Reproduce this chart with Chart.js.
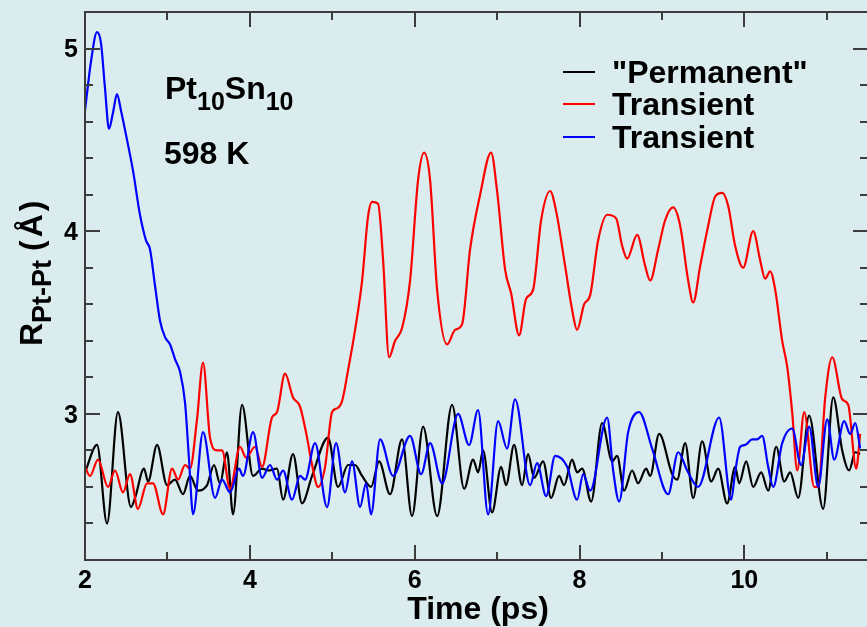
<!DOCTYPE html>
<html>
<head>
<meta charset="utf-8">
<script src="https://cdn.jsdelivr.net/npm/chart.js@4.4.0/dist/chart.umd.min.js"></script>
<style>
  html, body { margin: 0; padding: 0; background: #daeced; overflow: hidden; }
  #wrap { width: 867px; height: 627px; overflow: hidden; position: relative; }
  canvas { display: block; }
</style>
</head>
<body>
<div id="wrap"><canvas id="c" width="872" height="627"></canvas></div>
<script>
// Axis tick labels
const timeTicks = [2, 4, 6, 8, 10];
const distTicks = [3, 4, 5];

// "Permanent" Pt-Pt pair
const permanentTime = [2.000, 2.146, 2.267, 2.400, 2.558, 2.607, 2.716, 2.765, 2.874, 2.995, 3.092, 3.189, 3.274, 3.371, 3.481, 3.566, 3.638, 3.723, 3.796, 3.905, 4.039, 4.148, 4.221, 4.330, 4.403, 4.524, 4.633, 4.755, 4.949, 5.070, 5.192, 5.277, 5.362, 5.471, 5.568, 5.701, 5.847, 5.968, 6.102, 6.272, 6.454, 6.600, 6.709, 6.770, 6.830, 6.939, 7.049, 7.109, 7.206, 7.303, 7.376, 7.449, 7.558, 7.655, 7.752, 7.813, 7.910, 7.971, 8.032, 8.141, 8.274, 8.396, 8.456, 8.541, 8.638, 8.711, 8.808, 8.857, 8.966, 9.124, 9.184, 9.282, 9.379, 9.488, 9.597, 9.682, 9.791, 9.888, 9.937, 10.022, 10.107, 10.204, 10.289, 10.386, 10.483, 10.556, 10.653, 10.786, 10.956, 11.078, 11.187, 11.272, 11.345, 11.405];
const permanentR = [2.68, 2.83, 2.40, 3.01, 2.49, 2.54, 2.70, 2.63, 2.83, 2.61, 2.64, 2.56, 2.66, 2.58, 2.61, 2.72, 2.62, 2.79, 2.45, 3.05, 2.66, 2.70, 2.69, 2.70, 2.53, 2.78, 2.51, 2.66, 2.87, 2.60, 2.72, 2.72, 2.66, 2.60, 2.74, 2.56, 2.86, 2.44, 2.93, 2.44, 3.05, 2.59, 2.75, 2.68, 2.80, 2.46, 2.71, 2.61, 2.83, 2.61, 2.78, 2.65, 2.74, 2.54, 2.66, 2.61, 2.75, 2.68, 2.70, 2.52, 2.95, 2.74, 2.77, 2.58, 2.69, 2.62, 2.70, 2.66, 2.89, 2.67, 2.64, 2.84, 2.54, 2.85, 2.63, 2.70, 2.51, 2.71, 2.62, 2.74, 2.60, 2.68, 2.58, 2.82, 2.63, 2.68, 2.54, 2.99, 2.48, 3.09, 2.80, 2.69, 2.79, 2.78];

// Transient pair (red)
const transientRedTime = [2.000, 2.061, 2.158, 2.279, 2.364, 2.461, 2.546, 2.643, 2.752, 2.825, 2.947, 3.056, 3.129, 3.214, 3.274, 3.359, 3.432, 3.517, 3.602, 3.663, 3.760, 3.881, 3.954, 4.063, 4.148, 4.269, 4.330, 4.427, 4.524, 4.609, 4.694, 4.755, 4.828, 4.913, 4.998, 5.058, 5.119, 5.192, 5.277, 5.362, 5.434, 5.483, 5.556, 5.617, 5.689, 5.762, 5.847, 5.944, 6.041, 6.114, 6.187, 6.272, 6.393, 6.490, 6.575, 6.672, 6.794, 6.927, 7.000, 7.097, 7.170, 7.267, 7.352, 7.437, 7.534, 7.643, 7.716, 7.825, 7.910, 7.971, 8.056, 8.129, 8.226, 8.335, 8.444, 8.517, 8.578, 8.699, 8.796, 8.857, 8.954, 9.039, 9.136, 9.221, 9.318, 9.379, 9.464, 9.561, 9.646, 9.731, 9.803, 9.888, 9.985, 10.107, 10.192, 10.252, 10.313, 10.374, 10.459, 10.519, 10.580, 10.641, 10.726, 10.847, 10.896, 10.981, 11.066, 11.187, 11.260, 11.357, 11.405];
const transientRedR = [2.71, 2.66, 2.75, 2.60, 2.69, 2.57, 2.67, 2.48, 2.62, 2.62, 2.45, 2.70, 2.64, 2.72, 2.70, 2.97, 3.28, 2.87, 2.80, 2.80, 2.59, 2.82, 2.76, 2.82, 2.71, 2.98, 3.01, 3.22, 3.09, 3.04, 2.87, 2.72, 2.60, 2.71, 3.01, 3.03, 3.07, 3.24, 3.46, 3.73, 4.08, 4.16, 4.15, 3.84, 3.31, 3.40, 3.47, 3.73, 4.28, 4.43, 4.28, 3.68, 3.38, 3.46, 3.49, 3.90, 4.20, 4.43, 4.22, 3.79, 3.66, 3.43, 3.63, 3.68, 4.06, 4.22, 4.11, 3.81, 3.57, 3.46, 3.60, 3.65, 3.95, 4.09, 4.07, 3.92, 3.85, 3.98, 3.81, 3.73, 3.90, 4.06, 4.13, 4.03, 3.73, 3.61, 3.81, 4.03, 4.19, 4.21, 4.14, 3.92, 3.80, 4.00, 3.84, 3.74, 3.78, 3.68, 3.40, 3.26, 3.01, 2.69, 3.01, 2.60, 2.60, 3.09, 3.31, 3.08, 3.05, 2.70, 2.89];

// Transient pair (blue)
const transientBlueTime = [2.000, 2.073, 2.146, 2.194, 2.243, 2.291, 2.340, 2.388, 2.437, 2.510, 2.583, 2.667, 2.740, 2.789, 2.850, 2.910, 2.971, 3.032, 3.092, 3.153, 3.214, 3.262, 3.311, 3.432, 3.578, 3.663, 3.760, 3.869, 3.917, 4.039, 4.148, 4.245, 4.330, 4.403, 4.512, 4.609, 4.670, 4.791, 4.937, 5.046, 5.155, 5.240, 5.337, 5.410, 5.471, 5.580, 5.738, 5.944, 6.078, 6.187, 6.333, 6.527, 6.660, 6.769, 6.891, 7.012, 7.121, 7.218, 7.400, 7.485, 7.595, 7.704, 7.850, 7.971, 8.044, 8.129, 8.335, 8.408, 8.481, 8.590, 8.723, 8.881, 9.075, 9.197, 9.306, 9.439, 9.694, 9.840, 9.888, 9.949, 10.010, 10.095, 10.155, 10.216, 10.289, 10.350, 10.459, 10.580, 10.689, 10.786, 10.896, 11.005, 11.090, 11.211, 11.284, 11.345, 11.405];
const transientBlueR = [4.66, 4.93, 5.09, 5.03, 4.78, 4.56, 4.65, 4.75, 4.66, 4.50, 4.33, 4.09, 3.95, 3.90, 3.70, 3.51, 3.42, 3.38, 3.30, 3.23, 3.06, 2.75, 2.45, 2.90, 2.54, 2.64, 2.57, 2.70, 2.66, 2.90, 2.65, 2.72, 2.64, 2.69, 2.53, 2.66, 2.64, 2.84, 2.49, 2.84, 2.57, 2.74, 2.49, 2.62, 2.45, 2.86, 2.66, 2.88, 2.67, 2.84, 2.62, 3.00, 2.83, 3.02, 2.45, 2.96, 2.81, 3.08, 2.61, 2.73, 2.55, 2.77, 2.71, 2.53, 2.67, 2.58, 2.98, 2.69, 2.52, 2.90, 3.01, 2.81, 2.56, 2.79, 2.69, 2.60, 2.98, 2.53, 2.68, 2.82, 2.83, 2.86, 2.86, 2.88, 2.71, 2.60, 2.84, 2.92, 2.72, 2.93, 2.60, 2.97, 2.75, 2.96, 2.89, 2.95, 2.81];

const FONT = '"Liberation Sans", Arial, Helvetica, sans-serif';
const AXIS_COLOR = '#3c3c3c';

const pairs = (xs, ys) => xs.map((x, i) => ({ x, y: ys[i] }));

// Draws a run of text pieces with their own size, vertical offset and spacing
function drawRich(ctx, pieces, x, y) {
  let cx = x;
  for (const p of pieces) {
    ctx.font = `bold ${p.size}px ${FONT}`;
    ctx.letterSpacing = p.spacing || '0px';
    cx += p.gap || 0;
    ctx.fillText(p.t, cx, y + (p.dy || 0));
    cx += ctx.measureText(p.t).width;
  }
  ctx.letterSpacing = '0px';
  return cx - x;
}

// Box with inward major/minor ticks on all four sides
const framePlugin = {
  id: 'frame',
  afterDatasetsDraw(chart) {
    const { ctx, chartArea: a, scales: { x, y } } = chart;
    ctx.save();
    ctx.strokeStyle = AXIS_COLOR;
    ctx.lineWidth = 2;
    ctx.beginPath();
    for (let v = 2; v <= 11.5; v += 1) {
      const px = Math.round(x.getPixelForValue(v));
      const len = v % 2 === 0 ? 15 : 8;
      ctx.moveTo(px, a.bottom); ctx.lineTo(px, a.bottom - len);
      ctx.moveTo(px, a.top); ctx.lineTo(px, a.top + len);
    }
    for (let i = 11; i <= 26; i++) {
      const py = Math.round(y.getPixelForValue(i / 5));
      const len = i % 5 === 0 ? 15 : 8;
      ctx.moveTo(a.left, py); ctx.lineTo(a.left + len, py);
      ctx.moveTo(a.right, py); ctx.lineTo(a.right - len, py);
    }
    ctx.stroke();
    ctx.strokeRect(a.left, a.top, a.right - a.left, a.bottom - a.top);
    ctx.restore();
  }
};

// Axis titles, annotations and legend
const textPlugin = {
  id: 'texts',
  afterDraw(chart) {
    const { ctx } = chart;
    ctx.save();
    ctx.fillStyle = '#000';
    ctx.textBaseline = 'alphabetic';
    ctx.textAlign = 'left';

    // x title
    ctx.font = `bold 32px ${FONT}`;
    const tw = ctx.measureText('Time (ps)').width;
    ctx.fillText('Time (ps)', 478 - tw / 2, 619);

    // y title (rotated)
    ctx.save();
    ctx.translate(42, 346);
    ctx.rotate(-Math.PI / 2);
    drawRich(ctx, [
      { t: 'R', size: 32 },
      { t: 'Pt-Pt', size: 27, dy: 9 },
      { t: '(Å)', size: 32, gap: 9, spacing: '3px' }
    ], 0, 0);
    ctx.restore();

    // composition and temperature
    drawRich(ctx, [
      { t: 'Pt', size: 32 },
      { t: '10', size: 25, dy: 11 },
      { t: 'Sn', size: 32 },
      { t: '10', size: 25, dy: 11 }
    ], 165, 99);
    ctx.font = `bold 32px ${FONT}`;
    ctx.fillText('598 K', 164, 164);

    // legend
    const entries = [
      { label: '"Permanent"', color: '#000000', y: 83 },
      { label: 'Transient', color: '#ff0000', y: 115 },
      { label: 'Transient', color: '#0000ff', y: 148 }
    ];
    ctx.lineWidth = 2;
    for (const e of entries) {
      ctx.strokeStyle = e.color;
      ctx.beginPath();
      ctx.moveTo(563, e.y - 11);
      ctx.lineTo(595, e.y - 11);
      ctx.stroke();
      ctx.fillStyle = '#000';
      ctx.font = `bold 32px ${FONT}`;
      ctx.fillText(e.label, 612, e.y);
    }
    ctx.restore();
  }
};

const lineStyle = {
  borderWidth: 2.2,
  pointRadius: 0,
  fill: false,
  cubicInterpolationMode: 'monotone'
};

new Chart(document.getElementById('c'), {
  type: 'line',
  data: {
    datasets: [
      { label: '"Permanent"', data: pairs(permanentTime, permanentR), borderColor: '#000000', order: 3, ...lineStyle },
      { label: 'Transient', data: pairs(transientRedTime, transientRedR), borderColor: '#ff0000', order: 2, ...lineStyle },
      { label: 'Transient', data: pairs(transientBlueTime, transientBlueR), borderColor: '#0000ff', order: 1, ...lineStyle }
    ]
  },
  options: {
    responsive: false,
    animation: false,
    events: [],
    layout: { padding: { top: 12, right: 4, left: 0, bottom: 0 } },
    plugins: { legend: { display: false }, tooltip: { enabled: false } },
    scales: {
      x: {
        type: 'linear',
        min: 2,
        max: 11.5,
        afterBuildTicks: s => { s.ticks = timeTicks.map(v => ({ value: v })); },
        afterFit: s => { s.height = 67; s.paddingLeft = 0; s.paddingRight = 0; },
        grid: { display: false, drawTicks: false },
        border: { display: false },
        ticks: { color: '#000', font: { family: FONT, size: 25, weight: 'bold' }, padding: 6, maxRotation: 0, autoSkip: false }
      },
      y: {
        type: 'linear',
        min: 2.2,
        max: 5.2,
        afterBuildTicks: s => { s.ticks = distTicks.map(v => ({ value: v })); },
        afterFit: s => { s.width = 85; s.paddingTop = 0; s.paddingBottom = 0; },
        grid: { display: false, drawTicks: false },
        border: { display: false },
        ticks: { color: '#000', font: { family: FONT, size: 25, weight: 'bold' }, padding: 7, labelOffset: 2, autoSkip: false }
      }
    }
  },
  plugins: [framePlugin, textPlugin]
});
</script>
</body>
</html>
